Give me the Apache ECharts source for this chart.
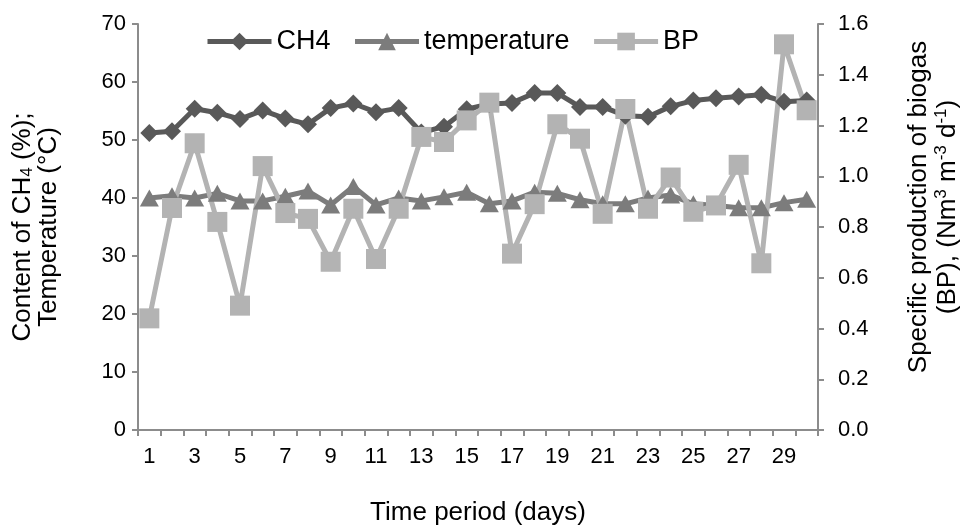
<!DOCTYPE html>
<html>
<head>
<meta charset="utf-8">
<script src="https://cdn.jsdelivr.net/npm/echarts@6/dist/echarts.min.js"></script>
<style>html,body{margin:0;padding:0;background:#fff;}#c{width:966px;height:526px;}</style>
</head>
<body>
<div id="c"></div>
<script>
const days = Array.from({length: 30}, (_, i) => String(i + 1));
const ch4 = [51.2, 51.5, 55.4, 54.7, 53.6, 55.1, 53.7, 52.7, 55.5, 56.3, 54.8, 55.5, 51.3, 52.3, 55.3, 56.2, 56.4, 58.1, 58.1, 55.7, 55.7, 54.2, 54.0, 55.8, 56.8, 57.2, 57.5, 57.8, 56.6, 56.8];
const temperature = [40.0, 40.4, 40.0, 40.8, 39.5, 39.5, 40.3, 41.2, 38.8, 42.0, 38.8, 40.0, 39.5, 40.2, 41.0, 39.0, 39.5, 41.0, 40.8, 39.7, 39.0, 39.0, 40.0, 40.5, 39.0, 38.7, 38.3, 38.3, 39.2, 39.8];
const bp = [0.44, 0.875, 1.13, 0.82, 0.49, 1.04, 0.855, 0.832, 0.663, 0.872, 0.674, 0.872, 1.155, 1.135, 1.22, 1.29, 0.695, 0.89, 1.205, 1.148, 0.852, 1.265, 0.872, 0.995, 0.86, 0.885, 1.045, 0.657, 1.52, 1.26];
const leftTicks = [0, 10, 20, 30, 40, 50, 60, 70];
const rightTicks = [0.0, 0.2, 0.4, 0.6, 0.8, 1.0, 1.2, 1.4, 1.6];

const FONT = 'Liberation Sans';
const AX = '#8c8c8c';
const FS = 22;   // tick labels
const TS = 26;   // titles
const chart = echarts.init(document.getElementById('c'));
chart.setOption({
  animation: false,
  textStyle: {fontFamily: FONT},
  legend: {
    left: 200, top: 23,
    itemWidth: 64, itemHeight: 22, itemGap: 22,
    lineStyle: {width: 5},
    textStyle: {fontFamily: FONT, fontSize: 27, color: '#000'},
    data: ['CH4', 'temperature', 'BP']
  },
  grid: {left: 138, right: 148, top: 24, bottom: 96, containLabel: false, outerBoundsMode: 'none'},
  xAxis: {
    type: 'category', data: days, boundaryGap: true,
    name: 'Time period (days)', nameLocation: 'middle', nameGap: 70,
    nameTextStyle: {fontFamily: FONT, fontSize: TS, color: '#000'},
    axisLine: {lineStyle: {color: AX, width: 2}},
    axisTick: {show: true, length: 6, lineStyle: {color: AX, width: 2}, interval: 0},
    axisLabel: {interval: 1, fontSize: FS, color: '#000', margin: 16, fontFamily: FONT}
  },
  yAxis: [{
    type: 'value', min: leftTicks[0], max: leftTicks[leftTicks.length - 1], interval: 10,
    name: '{a|Content of CH}{s|4}{a| (%);}\n{a|Temperature (°C)}',
    nameLocation: 'middle', nameGap: 76, nameRotate: 90,
    nameTextStyle: {
      fontFamily: FONT, fontSize: TS, color: '#000', lineHeight: 26, align: 'center',
      rich: {
        a: {fontFamily: FONT, fontSize: TS, color: '#000', lineHeight: 26},
        s: {fontFamily: FONT, fontSize: 17, color: '#000', verticalAlign: 'bottom', lineHeight: 18, padding: [10, 0, 0, 0]}
      }
    },
    splitLine: {show: false},
    axisLine: {show: true, lineStyle: {color: AX, width: 2}},
    axisTick: {show: true, length: 6, lineStyle: {color: AX, width: 2}},
    axisLabel: {fontSize: FS, color: '#000', margin: 12, fontFamily: FONT}
  }, {
    type: 'value', min: rightTicks[0], max: rightTicks[rightTicks.length - 1], interval: 0.2,
    name: '{a|Specific production of biogas}\n{a|(BP), (Nm}{p|3}{a| m}{p|-3}{a| d}{p|-1}{a|)}',
    nameLocation: 'middle', nameGap: 86, nameRotate: 90,
    nameTextStyle: {
      fontFamily: FONT, fontSize: TS, color: '#000', lineHeight: 29, align: 'center',
      padding: [0, 0, 0, 40],
      rich: {
        a: {fontFamily: FONT, fontSize: TS, color: '#000', lineHeight: 29},
        p: {fontFamily: FONT, fontSize: 17, color: '#000', verticalAlign: 'top', lineHeight: 18, padding: [0, 0, 10, 0]}
      }
    },
    splitLine: {show: false},
    axisLine: {show: true, lineStyle: {color: AX, width: 2}},
    axisTick: {show: true, length: 6, lineStyle: {color: AX, width: 2}},
    axisLabel: {fontSize: FS, color: '#000', margin: 20, fontFamily: FONT,
      formatter: v => v.toFixed(1)}
  }],
  series: [{
    name: 'CH4', type: 'line', data: ch4, yAxisIndex: 0,
    symbol: 'diamond', symbolSize: 18, showAllSymbol: true,
    lineStyle: {color: '#595959', width: 5},
    itemStyle: {color: '#595959'}
  }, {
    name: 'temperature', type: 'line', data: temperature, yAxisIndex: 0,
    symbol: 'triangle', symbolSize: [19, 17], showAllSymbol: true,
    lineStyle: {color: '#7c7c7c', width: 5},
    itemStyle: {color: '#7c7c7c'}
  }, {
    name: 'BP', type: 'line', data: bp, yAxisIndex: 1,
    symbol: 'rect', symbolSize: 20, showAllSymbol: true,
    lineStyle: {color: '#b3b3b3', width: 5},
    itemStyle: {color: '#b3b3b3'}
  }]
});
</script>
</body>
</html>
